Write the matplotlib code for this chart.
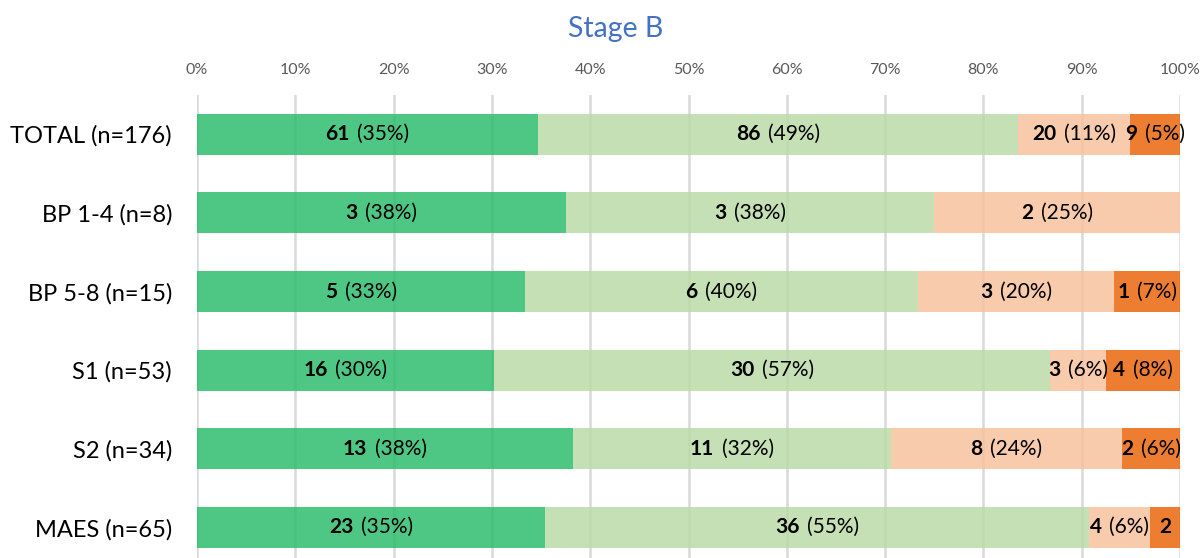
import matplotlib
matplotlib.use("Agg")
import matplotlib.pyplot as plt
import matplotlib.colors as mcolors
import numpy as np
from matplotlib.offsetbox import TextArea, HPacker, AnnotationBbox

plt.rcParams['font.family'] = ['Lato', 'DejaVu Sans']

categories = ["TOTAL (n=176)", "BP 1-4 (n=8)", "BP 5-8 (n=15)", "S1 (n=53)", "S2 (n=34)", "MAES (n=65)"]
totals = [176, 8, 15, 53, 34, 65]
seg1 = [61, 3, 5, 16, 13, 23]
seg2 = [86, 3, 6, 30, 11, 36]
seg3 = [20, 2, 3, 3, 8, 4]
seg4 = [9, 0, 1, 4, 2, 2]
pct_labels = [
    ["35%", "49%", "11%", "5%"],
    ["38%", "38%", "25%", None],
    ["33%", "40%", "20%", "7%"],
    ["30%", "57%", "6%", "8%"],
    ["38%", "32%", "24%", "6%"],
    ["35%", "55%", "6%", ""],
]
ticks = [0, 10, 20, 30, 40, 50, 60, 70, 80, 90, 100]
colors = ["#4DC783", "#C5E0B4", "#F8CBAD", "#ED7D31"]

BAR_ALPHA = 0.85
def base_color(hexc):
    rgb = np.array(mcolors.to_rgb(hexc))
    b = (rgb - (1 - BAR_ALPHA)) / BAR_ALPHA
    return tuple(np.clip(b, 0, 1))

fig = plt.figure(figsize=(12.02, 5.58), dpi=100)
ax = fig.add_axes([197/1202, 0.0, (1180-197)/1202, (558-95)/558])

segs = [seg1, seg2, seg3, seg4]
y = np.arange(len(categories))
left = np.zeros(len(categories))
LFS = 15
for si, seg in enumerate(segs):
    vals = np.array(seg, dtype=float)
    frac = vals / np.array(totals) * 100
    ax.barh(y, frac, left=left, height=0.52, color=base_color(colors[si]), alpha=BAR_ALPHA,
            edgecolor="none", linewidth=0, zorder=2)
    for i in range(len(categories)):
        if vals[i] <= 0:
            continue
        cx = left[i] + frac[i] / 2
        pl = pct_labels[i][si]
        if pl:
            a = TextArea(f"{int(vals[i])}", textprops=dict(fontsize=LFS, fontweight="bold", color="black"))
            b = TextArea(f"({pl})", textprops=dict(fontsize=LFS, color="black"))
            box = HPacker(children=[a, b], align="baseline", pad=0, sep=5.5)
            ab = AnnotationBbox(box, (cx, y[i]), frameon=False, box_alignment=(0.5, 0.5),
                                pad=0, zorder=3)
            ax.add_artist(ab)
        else:
            ax.text(cx, y[i], f"{int(vals[i])}", fontsize=LFS, fontweight="bold",
                    ha="center", va="center", color="black", zorder=3)
    left = left + frac

ax.set_xlim(0, 100)
ax.set_ylim(5.39, -0.5)
ax.xaxis.tick_top()
ax.set_xticks(ticks)
ax.set_xticklabels([f"{t}%" for t in ticks], fontsize=11.5, color="#595959")
ax.tick_params(axis="x", length=0, pad=13)
ax.set_yticks(y)
ax.set_yticklabels(categories, fontsize=17, color="black")
ax.tick_params(axis="y", length=0, pad=18)
ax.grid(axis="x", color="#D9D9D9", linewidth=1.8, zorder=0)
ax.set_axisbelow(True)
for s in ax.spines.values():
    s.set_visible(False)

fig.text(616/1202, 1 - 29/558, "Stage B", fontsize=20.5, color="#4472C4", ha="center", va="center")

fig.savefig("out.png", dpi=100)
